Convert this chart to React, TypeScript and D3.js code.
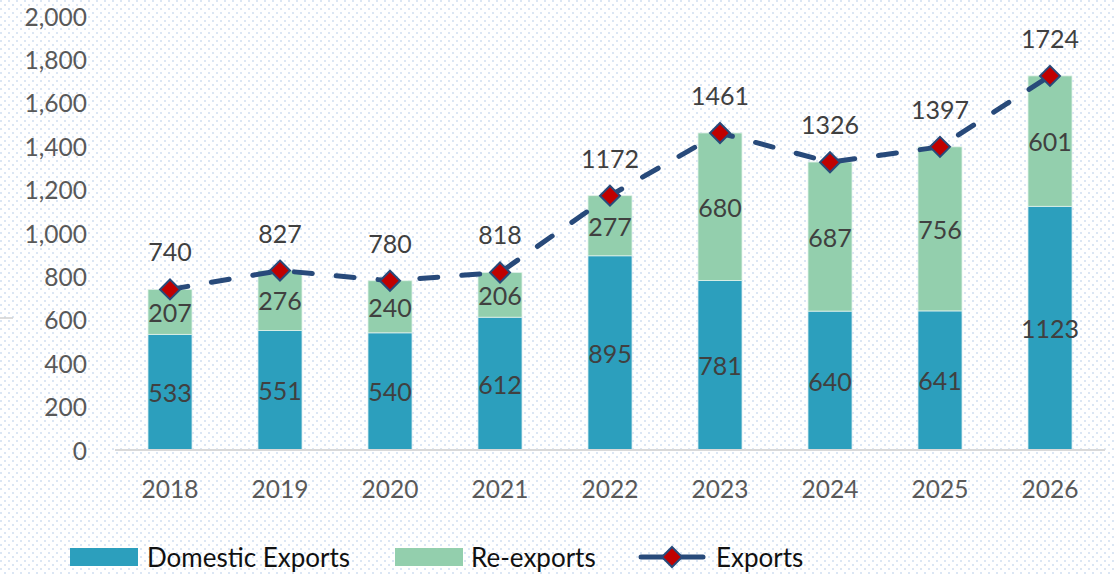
import React from 'react';
import * as d3 from 'd3';

const years = ['2018', '2019', '2020', '2021', '2022', '2023', '2024', '2025', '2026'];
const domesticExports = [533, 551, 540, 612, 895, 781, 640, 641, 1123];
const reExports = [207, 276, 240, 206, 277, 680, 687, 756, 601];
const exportsTotal = [740, 827, 780, 818, 1172, 1461, 1326, 1397, 1724];
const yTicks = [0, 200, 400, 600, 800, 1000, 1200, 1400, 1600, 1800, 2000];

const W = 1115;
const H = 574;
const FONT = 'Lato, "Open Sans", sans-serif';
const C_DOM = '#2C9FBD';
const C_RE = '#93CFAD';
const C_LINE = '#284A7A';
const C_MARK = '#C00000';

export default function App() {
  const x = d3.scaleBand<string>().domain(years).range([115, 1105]).paddingInner(0.6).paddingOuter(0.3);
  const y = d3.scaleLinear().domain([0, 2000]).range([450, 16]);
  const fmt = d3.format(',');
  const cx = (i: number) => (x(years[i]) as number) + x.bandwidth() / 2;
  const line = d3.line<number>().x((_, i) => cx(i)).y((d) => y(d));
  const dia = 10;

  return (
    <svg width={W} height={H} style={{ position: 'fixed', left: 0, top: 0, background: '#fff' }} fontFamily={FONT}>
      <defs>
        <pattern id="dots" width="8" height="8" patternUnits="userSpaceOnUse">
          <rect x="0" y="0" width="2" height="2" fill="#dbe6f4" />
          <rect x="4" y="4" width="2" height="2" fill="#dbe6f4" />
        </pattern>
      </defs>
      <rect x={0} y={0} width={W} height={H} fill="url(#dots)" />
      <line x1={0} x2={13} y1={318} y2={318} stroke="#d0d0d0" strokeWidth={1.5} />

      {/* y axis labels */}
      {yTicks.map((t) => (
        <text key={t} x={87} y={y(t)} textAnchor="end" dominantBaseline="central" fontSize={24.5} fill="#595959">
          {fmt(t)}
        </text>
      ))}

      {/* bars */}
      {years.map((yr, i) => (
        <g key={yr}>
          <rect x={x(yr)} y={y(domesticExports[i])} width={x.bandwidth()} height={y(0) - y(domesticExports[i])} fill={C_DOM} stroke="#d4ecf2" strokeWidth={0.8} />
          <rect x={x(yr)} y={y(domesticExports[i] + reExports[i])} width={x.bandwidth()} height={y(domesticExports[i]) - y(domesticExports[i] + reExports[i])} fill={C_RE} stroke="#e2f2ea" strokeWidth={0.8} />
        </g>
      ))}

      {/* axis line */}
      <line x1={115} x2={1105} y1={y(0)} y2={y(0)} stroke="#d9d9d9" strokeWidth={2} />

      {/* x labels */}
      {years.map((yr, i) => (
        <text key={yr} x={cx(i)} y={488} textAnchor="middle" dominantBaseline="central" fontSize={24.5} fill="#595959">
          {yr}
        </text>
      ))}

      {/* segment labels */}
      {years.map((yr, i) => (
        <g key={'l' + yr} fontSize={25} fill="#404040" textAnchor="middle">
          <text x={cx(i)} y={y(domesticExports[i] / 2)} dominantBaseline="central">{domesticExports[i]}</text>
          <text x={cx(i)} y={y(domesticExports[i] + reExports[i] / 2)} dominantBaseline="central">{reExports[i]}</text>
        </g>
      ))}

      {/* line */}
      <path d={line(exportsTotal) as string} fill="none" stroke={C_LINE} strokeWidth={5} strokeDasharray="18 24" strokeLinecap="round" />
      {exportsTotal.map((v, i) => (
        <g key={'m' + i}>
          <path d={`M${cx(i)},${y(v) - dia}L${cx(i) + dia},${y(v)}L${cx(i)},${y(v) + dia}L${cx(i) - dia},${y(v)}Z`} fill={C_MARK} stroke={C_LINE} strokeWidth={2} />
          <text x={cx(i)} y={y(v) - 38} textAnchor="middle" dominantBaseline="central" fontSize={25} fill="#404040">{v}</text>
        </g>
      ))}

      {/* legend */}
      <g fontSize={26} fill="#111">
        <rect x={70} y={548} width={68} height={18} fill={C_DOM} />
        <text x={147} y={557} dominantBaseline="central">Domestic Exports</text>
        <rect x={395} y={548} width={68} height={18} fill={C_RE} />
        <text x={471} y={557} dominantBaseline="central">Re-exports</text>
        <line x1={641} x2={703} y1={557} y2={557} stroke={C_LINE} strokeWidth={5} strokeLinecap="round" />
        <path d={`M672,${557 - dia}L${672 + dia},557L672,${557 + dia}L${672 - dia},557Z`} fill={C_MARK} stroke={C_LINE} strokeWidth={2} />
        <text x={716} y={557} dominantBaseline="central">Exports</text>
      </g>
    </svg>
  );
}
